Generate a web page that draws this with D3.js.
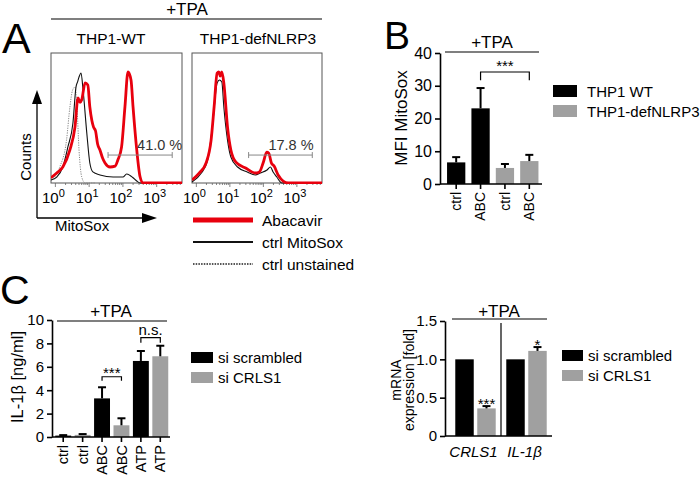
<!DOCTYPE html>
<html><head><meta charset="utf-8">
<script src="https://cdn.jsdelivr.net/npm/d3@7"></script>
<style>
body{margin:0;background:#fff;}
svg{display:block;font-family:"Liberation Sans",Arial,Helvetica,sans-serif;}
</style></head><body>
<svg id="c" width="700" height="477"></svg>
<script>
// ================= DATA =================
// Panel A: flow histograms, points are [log10(MitoSox), % of max counts]
const decadeTicks = [0, 1, 2, 3];
const histTitles = ["THP1-WT", "THP1-defNLRP3"];
const gateLabels = ["41.0 %", "17.8 %"];
const gateRange = [1.56, 3.46];
const histLegend = ["Abacavir", "ctrl MitoSox", "ctrl unstained"];
const wtAbacavir = [[-0.13,4],[0.04,7.7],[0.22,12.3],[0.43,25.4],[0.58,43],[0.67,65.4],[0.73,62],[0.78,64],[0.88,77],[0.96,75.4],[1.02,58.5],[1.08,48],[1.13,43],[1.19,40],[1.25,30],[1.32,25.4],[1.40,19],[1.47,15.4],[1.62,12.3],[1.77,13],[1.85,17.7],[1.96,27.7],[2.06,58.5],[2.15,85.4],[2.24,79.2],[2.30,58.5],[2.41,25.4],[2.51,4.6],[2.60,0],[3.75,0]];
const wtCtrl = [[-0.13,2.3],[0.04,4.6],[0.22,12.3],[0.37,27.7],[0.52,46.2],[0.61,73.8],[0.66,78],[0.70,81.5],[0.76,84.6],[0.82,71.5],[0.93,38.5],[1.02,15.4],[1.11,8.5],[1.32,6.2],[1.71,4.6],[2.00,4.6],[2.11,6.9],[2.20,6],[2.30,4],[2.41,1.5],[2.51,0],[3.75,0]];
const wtUnstained = [[-0.13,2.3],[0.13,12.3],[0.33,33],[0.43,58.5],[0.51,71.5],[0.58,73.8],[0.64,58.5],[0.70,25.4],[0.78,4.6],[0.88,0],[1.2,0]];
const defAbacavir = [[-0.13,2.3],[0.09,7.7],[0.29,15.4],[0.44,33],[0.53,58.5],[0.62,84.6],[0.67,85.4],[0.71,82.3],[0.76,85.4],[0.82,76.9],[0.93,43],[1.03,25.4],[1.18,16],[1.47,11.5],[1.76,7.7],[1.88,8.5],[2.00,16],[2.10,23.8],[2.16,23],[2.24,15.4],[2.32,13],[2.44,6.2],[2.59,1.5],[2.74,0],[3.75,0]];
const defCtrl = [[-0.13,0.8],[0.15,7.7],[0.34,17.7],[0.49,46.2],[0.62,76.9],[0.69,79.2],[0.76,77.7],[0.82,58.5],[0.93,33],[1.03,20],[1.23,12.3],[1.52,8.5],[1.76,6.2],[1.91,7.7],[2.11,10],[2.21,12.3],[2.29,8.5],[2.40,4.6],[2.55,0],[3.75,0]];

// Panel B: MFI MitoSox
const bCategories = ["ctrl", "ABC", "ctrl", "ABC"];
const bSeriesIdx = [0, 0, 1, 1];
const bMeans = [6.6, 23.1, 4.9, 7.0];
const bErrors = [1.6, 6.2, 1.2, 1.9];
const bTicks = [0, 10, 20, 30, 40];
const bLegend = ["THP1 WT", "THP1-defNLRP3"];

// Panel C left: IL-1β
const cCategories = ["ctrl", "ctrl", "ABC", "ABC", "ATP", "ATP"];
const cSeriesIdx = [0, 1, 0, 1, 0, 1];
const cMeans = [0.12, 0.18, 3.3, 1.0, 6.5, 6.9];
const cErrors = [0.04, 0.07, 0.95, 0.6, 0.85, 0.9];
const cTicks = [0, 2, 4, 6, 8, 10];
const siLegend = ["si scrambled", "si CRLS1"];

// Panel C right: mRNA expression
const dGenes = ["CRLS1", "IL-1β"];
const dScrambled = [1.0, 1.0];
const dCRLS1 = [0.36, 1.11];
const dCRLS1Err = [0.03, 0.05];
const dSig = ["***", "*"];
const dTicks = [0, 0.5, 1.0, 1.5];

// ================= DRAW =================
const RED = "#e8000e", GRAY = "#a0a0a0";
const seriesColor = [ "#000", GRAY ];
const svg = d3.select("#c");
svg.append("rect").attr("width",700).attr("height",477).attr("fill","#fff");

function txt(g, x, y, s, size, opts = {}) {
  const t = g.append("text").attr("x", x).attr("y", y).text(s)
    .attr("font-size", size).attr("fill", opts.fill || "#000")
    .attr("text-anchor", opts.anchor || "start");
  if (opts.rotate) t.attr("transform", `rotate(-90,${x},${y})`);
  if (opts.italic) t.attr("font-style", "italic");
  return t;
}
function styleAxis(g, size) {
  g.selectAll("path,line").attr("stroke", "#000").attr("stroke-width", 1.6);
  g.selectAll("text").attr("font-size", size).attr("fill", "#000")
    .attr("font-family", "Liberation Sans, Arial, sans-serif");
}

// ---------- Panel A ----------
const A = svg.append("g");
txt(A, 2, 53, "A", 43);
txt(A, 187, 15, "+TPA", 17, {anchor:"middle"});
A.append("line").attr("x1",51).attr("x2",322).attr("y1",19).attr("y2",19).attr("stroke","#000").attr("stroke-width",1.2);

const yA = d3.scaleLinear().domain([0, 100]).range([183, 53]);
const boxes = [
  {x0: 51, x1: 182, curves: [[wtUnstained,"unst"],[wtCtrl,"ctrl"],[wtAbacavir,"abc"]], title: histTitles[0], tx: 111, gate: gateLabels[0], gLabel: 2.42},
  {x0: 192, x1: 322, curves: [[defCtrl,"ctrl"],[defAbacavir,"abc"]], title: histTitles[1], tx: 258, gate: gateLabels[1], gLabel: 2.15}
];
const curveStyle = {
  abc: {stroke: RED, w: 2.8, dash: null},
  ctrl: {stroke: "#111", w: 1.1, dash: null},
  unst: {stroke: "#888", w: 1, dash: "1.2,1.2"}
};
boxes.forEach((b, i) => {
  const x = d3.scaleLinear().domain([-0.13, 3.75]).range([b.x0, b.x1]);
  const g = A.append("g");
  txt(g, b.tx, 44, b.title, 15.5, {anchor: "middle"});
  g.append("rect").attr("x", b.x0).attr("y", 53).attr("width", b.x1 - b.x0).attr("height", 130)
    .attr("fill", "none").attr("stroke", "#555").attr("stroke-width", 1);
  for (let k = 0; k <= 3; k++) for (let m = 1; m <= 9; m++) {
    const v = k + Math.log10(m);
    if (v > 3.75) continue;
    g.append("line").attr("x1", x(v)).attr("x2", x(v)).attr("y1", 183).attr("y2", 183 + (m === 1 ? 4 : 2))
      .attr("stroke", "#666").attr("stroke-width", 0.8);
  }
  decadeTicks.forEach(d => {
    const t = g.append("text").attr("x", x(d) - 2).attr("y", 203).attr("font-size", 15).attr("text-anchor", "middle");
    t.append("tspan").text("10");
    t.append("tspan").attr("dy", -6).attr("font-size", 11).text(d);
  });
  const clipId = "clip" + i;
  g.append("clipPath").attr("id", clipId).append("rect").attr("x", b.x0).attr("y", 50).attr("width", b.x1 - b.x0).attr("height", 134);
  const line = d3.line().x(d => x(d[0])).y(d => yA(d[1])).curve(d3.curveMonotoneX);
  b.curves.forEach(([data, key]) => {
    const s = curveStyle[key];
    g.append("path").attr("clip-path", `url(#${clipId})`).attr("d", line(data)).attr("fill", "none")
      .attr("stroke", s.stroke).attr("stroke-width", s.w).attr("stroke-dasharray", s.dash)
      .attr("stroke-linejoin", "round");
  });
  const gy = yA(21.5);
  g.append("line").attr("x1", x(gateRange[0])).attr("x2", x(gateRange[1])).attr("y1", gy).attr("y2", gy).attr("stroke", "#888").attr("stroke-width", 1);
  gateRange.forEach(v => g.append("line").attr("x1", x(v)).attr("x2", x(v)).attr("y1", gy - 3).attr("y2", gy + 3).attr("stroke", "#888").attr("stroke-width", 1));
  txt(g, x(b.gLabel), yA(25.4), b.gate, 14.5, {fill: "#333"});
});
A.append("line").attr("x1",37).attr("x2",37).attr("y1",218).attr("y2",100).attr("stroke","#000").attr("stroke-width",1.3);
A.append("path").attr("d","M37,90 L32,104 L42,104 Z").attr("fill","#000");
A.append("line").attr("x1",37).attr("x2",145).attr("y1",218).attr("y2",218).attr("stroke","#000").attr("stroke-width",1.3);
A.append("path").attr("d","M157,218 L142,213 L142,223 Z").attr("fill","#000");
txt(A, 31, 157, "Counts", 15, {anchor: "middle", rotate: true});
txt(A, 55, 231, "MitoSox", 15);
const legY = [220, 242, 264];
const legKeys = ["abc", "ctrl", "unst"];
histLegend.forEach((l, i) => {
  const s = curveStyle[legKeys[i]];
  A.append("line").attr("x1", 193).attr("x2", 253).attr("y1", legY[i]).attr("y2", legY[i])
    .attr("stroke", i === 2 ? "#555" : s.stroke).attr("stroke-width", i === 0 ? 5 : 2).attr("stroke-dasharray", i === 2 ? "1.5,1.2" : null);
  txt(A, 262, legY[i] + 6, l, 15.5);
});

// ---------- Panel B ----------
const B = svg.append("g");
txt(B, 384, 49, "B", 39);
txt(B, 492, 48, "+TPA", 17, {anchor: "middle"});
B.append("line").attr("x1",445).attr("x2",539).attr("y1",52).attr("y2",52).attr("stroke","#000").attr("stroke-width",1.2);
const yB = d3.scaleLinear().domain([0, 40]).range([184, 53]);
const xB = d3.scaleBand().domain(d3.range(bCategories.length)).range([444, 541.5]).paddingInner(0.25).paddingOuter(0.125);
B.append("g").attr("transform", "translate(440,0)")
  .call(d3.axisLeft(yB).tickValues(bTicks).tickSize(5).tickSizeOuter(0).tickPadding(3))
  .call(g => styleAxis(g, 16));
B.selectAll(".bar").data(bMeans).join("rect")
  .attr("x", (d, i) => xB(i)).attr("width", xB.bandwidth())
  .attr("y", d => yB(d)).attr("height", d => yB(0) - yB(d))
  .attr("fill", (d, i) => seriesColor[bSeriesIdx[i]]);
bMeans.forEach((m, i) => {
  const cx = xB(i) + xB.bandwidth() / 2, top = yB(m + bErrors[i]);
  B.append("line").attr("x1", cx).attr("x2", cx).attr("y1", yB(m)).attr("y2", top).attr("stroke", "#000").attr("stroke-width", 2);
  B.append("line").attr("x1", cx - 4).attr("x2", cx + 4).attr("y1", top).attr("y2", top).attr("stroke", "#000").attr("stroke-width", 2);
});
B.append("g").attr("transform", "translate(0,184)")
  .call(d3.axisBottom(xB).tickFormat(i => bCategories[i]).tickSize(5).tickSizeOuter(0))
  .call(g => { styleAxis(g, 14); g.select(".domain").remove();
    g.selectAll("text").attr("transform", "rotate(-90)").attr("text-anchor", "end").attr("x", -8).attr("y", 0).attr("dy", "0.35em"); });
B.append("line").attr("x1", 440).attr("x2", 542).attr("y1", 184).attr("y2", 184).attr("stroke", "#000").attr("stroke-width", 1.6);
{
  const x1 = xB(1) + xB.bandwidth() / 2, x2 = xB(3) + xB.bandwidth() / 2, by = yB(34.2), ly = yB(31.7);
  B.append("path").attr("d", `M${x1},${ly}V${by}H${x2}V${ly}`).attr("fill", "none").attr("stroke", "#000").attr("stroke-width", 1.2);
  txt(B, (x1 + x2) / 2, by - 1, "***", 15, {anchor: "middle"});
}
txt(B, 407, 118, "MFI MitoSox", 17, {anchor: "middle", rotate: true});
bLegend.forEach((l, i) => {
  B.append("rect").attr("x", 553).attr("y", 85 + i * 20).attr("width", 24).attr("height", 12).attr("fill", seriesColor[i]);
  txt(B, 587, 97 + i * 20, l, 15);
});

// ---------- Panel C left ----------
const C = svg.append("g");
txt(C, 0, 304, "C", 41);
txt(C, 111, 317, "+TPA", 17, {anchor: "middle"});
C.append("line").attr("x1",57).attr("x2",167).attr("y1",321).attr("y2",321).attr("stroke","#000").attr("stroke-width",1.2);
const yC = d3.scaleLinear().domain([0, 10]).range([437, 320]);
const xC = d3.scaleBand().domain(d3.range(cCategories.length)).range([53.5, 170]).paddingInner(0.18).paddingOuter(0.09);
C.append("g").attr("transform", "translate(52,0)")
  .call(d3.axisLeft(yC).tickValues(cTicks).tickSize(5).tickSizeOuter(0).tickPadding(3))
  .call(g => styleAxis(g, 15));
C.selectAll(".bar").data(cMeans).join("rect")
  .attr("x", (d, i) => xC(i)).attr("width", xC.bandwidth())
  .attr("y", d => yC(d)).attr("height", d => yC(0) - yC(d))
  .attr("fill", (d, i) => seriesColor[cSeriesIdx[i]]);
cMeans.forEach((m, i) => {
  const cx = xC(i) + xC.bandwidth() / 2, top = yC(m + cErrors[i]);
  C.append("line").attr("x1", cx).attr("x2", cx).attr("y1", yC(m)).attr("y2", top).attr("stroke", "#000").attr("stroke-width", 2);
  C.append("line").attr("x1", cx - 4).attr("x2", cx + 4).attr("y1", top).attr("y2", top).attr("stroke", "#000").attr("stroke-width", 2);
});
C.append("g").attr("transform", "translate(0,437)")
  .call(d3.axisBottom(xC).tickFormat(i => cCategories[i]).tickSize(5).tickSizeOuter(0))
  .call(g => { styleAxis(g, 14.5); g.select(".domain").remove();
    g.selectAll("text").attr("transform", "rotate(-90)").attr("text-anchor", "end").attr("x", -8).attr("y", 0).attr("dy", "0.35em"); });
C.append("line").attr("x1", 52).attr("x2", 170).attr("y1", 437).attr("y2", 437).attr("stroke", "#000").attr("stroke-width", 1.6);
[[2, 3, 5.15, 4.8, "***"], [4, 5, 8.5, 8.05, "n.s."]].forEach(([a, b, top, leg, lab]) => {
  const x1 = xC(a) + xC.bandwidth() / 2, x2 = xC(b) + xC.bandwidth() / 2;
  C.append("path").attr("d", `M${x1},${yC(leg)}V${yC(top)}H${x2}V${yC(leg)}`).attr("fill", "none").attr("stroke", "#000").attr("stroke-width", 1.2);
  txt(C, (x1 + x2) / 2, yC(top) + (lab === "***" ? 1 : -3), lab, 15, {anchor: "middle"});
});
txt(C, 23, 377, "IL-1β [ng/ml]", 16.5, {anchor: "middle", rotate: true});
siLegend.forEach((l, i) => {
  C.append("rect").attr("x", 191).attr("y", 352 + i * 20).attr("width", 22).attr("height", 11).attr("fill", seriesColor[i]);
  txt(C, 218, 363 + i * 20, l, 15);
});

// ---------- Panel C right ----------
const D = svg.append("g");
txt(D, 499, 317, "+TPA", 17, {anchor: "middle"});
D.append("line").attr("x1",452).attr("x2",547).attr("y1",319).attr("y2",319).attr("stroke","#000").attr("stroke-width",1.2);
const yD = d3.scaleLinear().domain([0, 1.5]).range([436, 321]);
const xD = d3.scaleBand().domain(dGenes).range([450, 552]);
const xDi = d3.scaleBand().domain([0, 1]).range([0, xD.bandwidth()]).paddingInner(0.16).paddingOuter(0.24);
D.append("g").attr("transform", "translate(445,0)")
  .call(d3.axisLeft(yD).tickValues(dTicks).tickFormat(d => d === 0 ? "0" : d3.format(".1f")(d)).tickSize(5).tickSizeOuter(0).tickPadding(3))
  .call(g => styleAxis(g, 15));
dGenes.forEach((gName, gi) => {
  [dScrambled[gi], dCRLS1[gi]].forEach((v, si) => {
    D.append("rect").attr("x", xD(gName) + xDi(si)).attr("width", xDi.bandwidth())
      .attr("y", yD(v)).attr("height", yD(0) - yD(v)).attr("fill", seriesColor[si]);
  });
  const cx = xD(gName) + xDi(1) + xDi.bandwidth() / 2, top = yD(dCRLS1[gi] + dCRLS1Err[gi]);
  D.append("line").attr("x1", cx).attr("x2", cx).attr("y1", yD(dCRLS1[gi])).attr("y2", top).attr("stroke", "#000").attr("stroke-width", 2);
  D.append("line").attr("x1", cx - 4).attr("x2", cx + 4).attr("y1", top).attr("y2", top).attr("stroke", "#000").attr("stroke-width", 2);
  txt(D, cx, top + 3, dSig[gi], 15, {anchor: "middle"});
  txt(D, xD(gName) + xD.bandwidth() / 2 - 2, 457, gName, 15, {anchor: "middle", italic: true});
});
D.append("line").attr("x1", xD(dGenes[1])).attr("x2", xD(dGenes[1])).attr("y1", 323).attr("y2", 436).attr("stroke", "#000").attr("stroke-width", 1.2);
D.append("line").attr("x1", 445).attr("x2", 552).attr("y1", 436).attr("y2", 436).attr("stroke", "#000").attr("stroke-width", 1.6);
txt(D, 401, 380, "mRNA", 14, {anchor: "middle", rotate: true});
txt(D, 414, 380, "expression [fold]", 14, {anchor: "middle", rotate: true});
siLegend.forEach((l, i) => {
  D.append("rect").attr("x", 562).attr("y", 350 + i * 20).attr("width", 21).attr("height", 11).attr("fill", seriesColor[i]);
  txt(D, 588, 361 + i * 20, l, 15);
});
</script></body></html>
